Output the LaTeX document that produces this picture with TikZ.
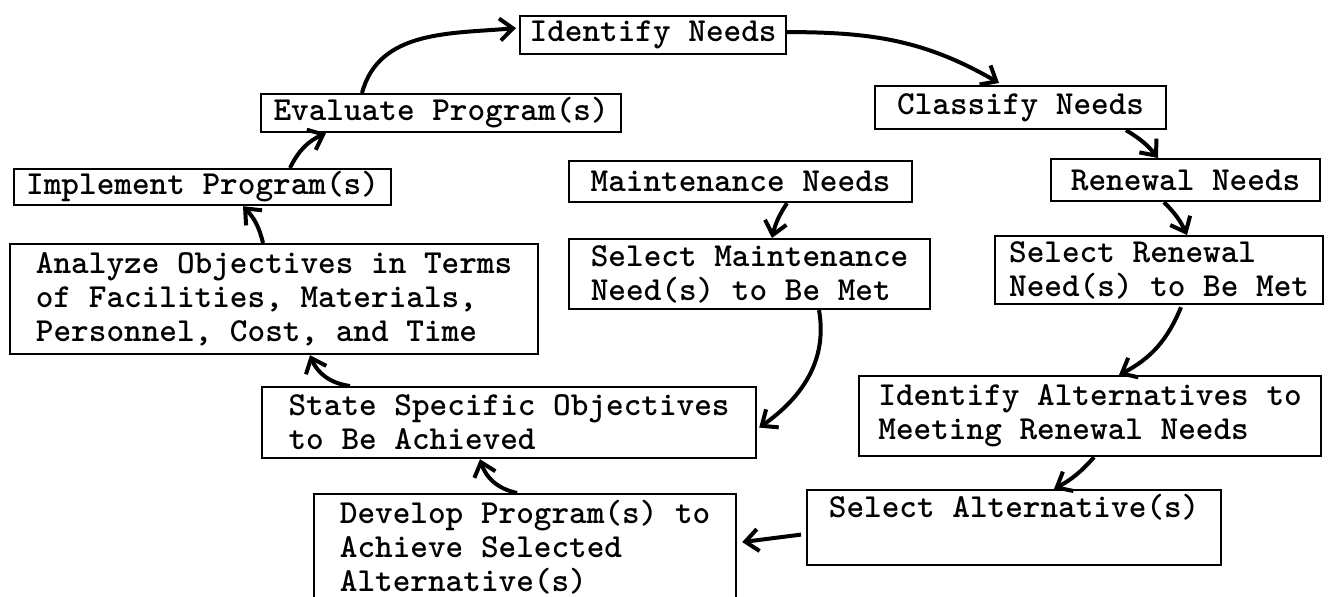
\documentclass[tikz,border=0pt]{standalone}
\usepackage{tikz}
\usetikzlibrary{arrows.meta,calc}

\begin{document}
\begin{tikzpicture}[x=0.5pt,y=-0.5pt,
  stage/.style={draw,line width=1.1pt,anchor=north west,align=left,inner sep=0pt,
    font=\ttfamily\bfseries\fontsize{16.8}{17}\selectfont},
  flow/.style={line width=2pt,-{Straight Barb[length=6.5pt,width=11pt]}}]
\useasboundingbox (0,0) rectangle (1328,597);
\node[stage,minimum width=133pt,minimum height=19pt] (need) at (519,15) {Identify Needs};
\node[stage,minimum width=145.5pt,minimum height=21.5pt] (classify) at (874,85) {Classify Needs};
\node[stage,minimum width=134.5pt,minimum height=21pt] (renew) at (1050,158) {Renewal Needs};
\node[stage,minimum width=171.5pt,minimum height=20.5pt] (maint) at (568,160) {Maintenance Needs};
\node[stage,minimum width=180pt,minimum height=19pt] (eval) at (260,93) {Evaluate Program(s)};
\node[stage,minimum width=188.5pt,minimum height=18pt] (impl) at (13,168) {Implement Program(s)};
\node[stage,minimum width=264pt,minimum height=55pt] (analyze) at (9,243)
  {Analyze Objectives in Terms\\of Facilities, Materials,\\Personnel, Cost, and Time};
\node[stage,minimum width=180.5pt,minimum height=35pt] (selmaint) at (568,238)
  {Select Maintenance\\Need(s) to Be Met};
\node[stage,minimum width=164pt,minimum height=34pt] (selrenew) at (994,235)
  {Select Renewal\\Need(s) to Be Met};
\node[stage,minimum width=247pt,minimum height=35.5pt] (state) at (261,386)
  {State Specific Objectives\\to Be Achieved};
\node[stage,minimum width=231pt,minimum height=40pt] (idalt) at (858,375)
  {Identify Alternatives to\\Meeting Renewal Needs};
\node[stage,minimum width=207pt,minimum height=37.5pt] (selalt) at (806,489)
  {Select Alternative(s)\\\strut};
\node[stage,minimum width=211pt,minimum height=53pt] (develop) at (313,493)
  {Develop Program(s) to\\Achieve Selected\\Alternative(s)};

\draw[flow] ($(need.east)+(0,-3)$) to[out=0,in=150] ($(classify.north west)+(125,-2)$);
\draw[flow] ($(classify.south west)+(252,0)$) to[bend left=10] ($(renew.north west)+(108,0)$);
\draw[flow] ($(renew.south west)+(114,0)$) to[bend left=10] ($(selrenew.north west)+(193,0)$);
\draw[flow] ($(maint.south west)+(219,0)$) to[bend right=10] ($(selmaint.north west)+(204,0)$);
\draw[flow] ($(selrenew.south west)+(187,2)$) to[bend left=20] ($(idalt.north west)+(261,0)$);
\draw[flow] ($(selmaint.south west)+(251,0)$) to[out=-80,in=35] ($(state.east)+(2,5)$);
\draw[flow] ($(idalt.south west)+(236,0)$) to[bend left=10] ($(selalt.north west)+(248,0)$);
\draw[flow] ($(selalt.west)+(-5,7)$) -- ($(develop.east)+(5,-5)$);
\draw[flow] ($(develop.north west)+(204,0)$) to[bend left=30] ($(state.south west)+(219,0)$);
\draw[flow] ($(state.north west)+(89,0)$) to[bend left=30] ($(analyze.south west)+(301,0)$);
\draw[flow] ($(analyze.north west)+(254,0)$) to[bend right=15] ($(impl.south west)+(230,0)$);
\draw[flow] ($(impl.north west)+(277,0)$) to[bend left=20] ($(eval.south west)+(66,0)$);
\draw[flow] ($(eval.north west)+(102,0)$) to[out=75,in=185] ($(need.west)+(-3,-7)$);
\end{tikzpicture}
\end{document}
